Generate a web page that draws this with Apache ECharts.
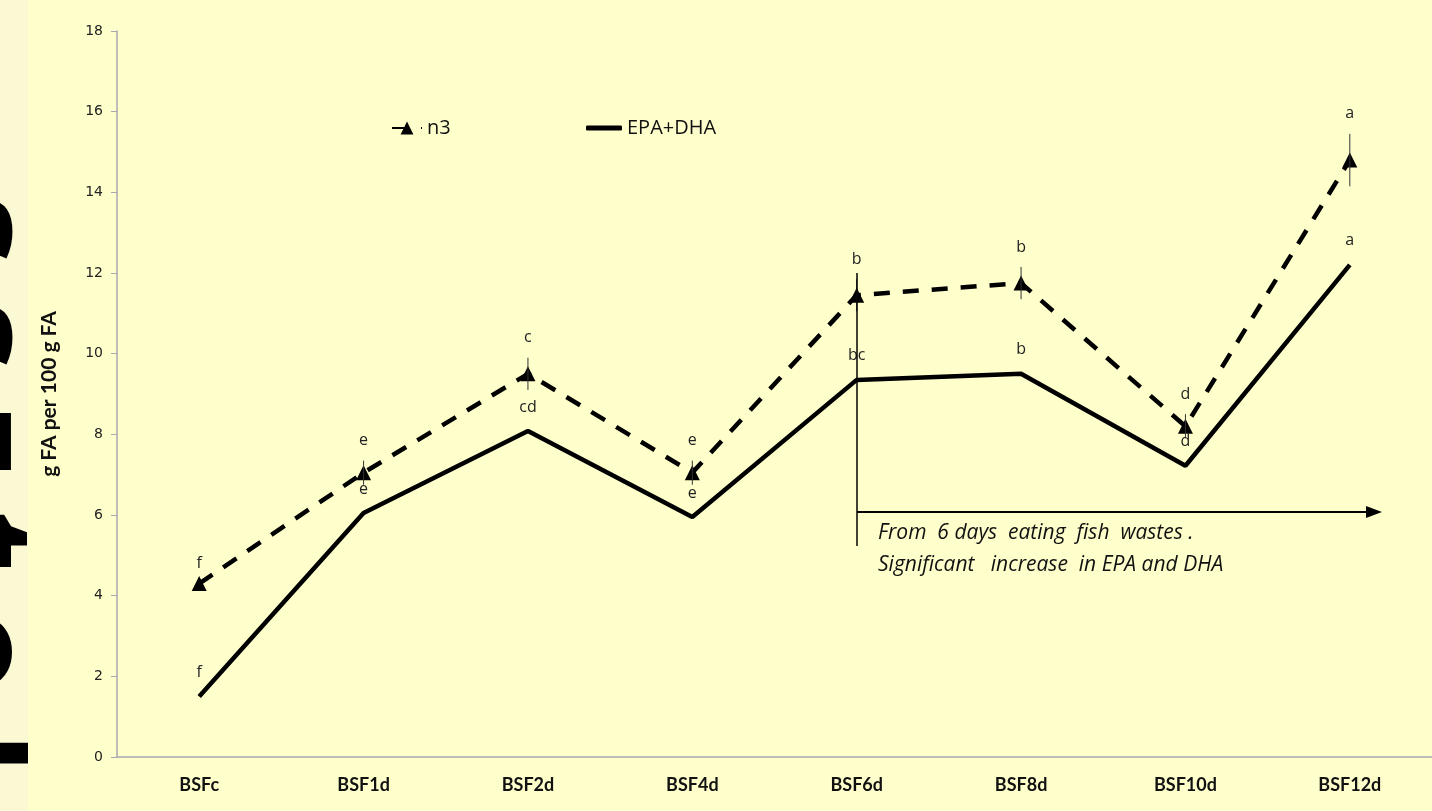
<!DOCTYPE html>
<html>
<head>
<meta charset="utf-8">
<script src="https://cdn.jsdelivr.net/npm/echarts@6/dist/echarts.min.js"></script>
<style>
  html, body { margin: 0; padding: 0; background: #FFFFCC; }
  #main { width: 1432px; height: 811px; }
</style>
</head>
<body>
<div id="main"></div>
<script>
// categories and values
var categories = ['BSFc', 'BSF1d', 'BSF2d', 'BSF4d', 'BSF6d', 'BSF8d', 'BSF10d', 'BSF12d']
var n3 = [4.3, 7.05, 9.5, 7.05, 11.45, 11.75, 8.2, 14.8]
var n3Err = [0, 0.3, 0.4, 0.3, 0.4, 0.4, 0.3, 0.65]
var n3Letters = ['f', 'e', 'c', 'e', 'b', 'b', 'd', 'a']
var epaDha = [1.5, 6.05, 8.08, 5.95, 9.35, 9.5, 7.22, 12.2]
var epaLetters = ['f', 'e', 'cd', 'e', 'bc', 'b', 'd', 'a']
var yTicks = [0, 2, 4, 6, 8, 10, 12, 14, 16, 18]

var myChart = echarts.init(document.getElementById('main'))

// letters (and error bars) drawn above a point
function letterItem(values, errs, letters, gap) {
  return function (params, api) {
    var i = api.value(0)
    var v = api.value(1)
    var e = errs ? errs[params.dataIndex] : 0
    var hi = api.coord([i, v + e])
    var lo = api.coord([i, v - e])
    var children = []
    if (e > 0) {
      children.push({
        type: 'line',
        shape: { x1: hi[0], y1: hi[1], x2: lo[0], y2: lo[1] },
        style: { stroke: '#333', lineWidth: 1 },
      })
    }
    children.push({
      type: 'text',
      style: {
        x: hi[0],
        y: hi[1] - gap,
        text: letters[params.dataIndex],
        fill: '#222',
        font: '16px "Open Sans"',
        align: 'center',
        verticalAlign: 'middle',
      },
    })
    return { type: 'group', children: children }
  }
}

var option = {
  backgroundColor: '#FFFFCC',
  animation: false,
  textStyle: { fontFamily: 'Open Sans' },
  grid: {
    left: 117,
    top: 31,
    width: 1319,
    height: 726,
  },
  legend: [
    {
      left: 386,
      top: 113,
      itemWidth: 30,
      itemHeight: 16,
      textStyle: { fontSize: 20, color: '#111', fontFamily: 'Open Sans' },
      data: ['n3'],
    },
    {
      left: 581,
      top: 113,
      itemWidth: 36,
      itemHeight: 5,
      itemGap: 4,
      textStyle: { fontSize: 20, color: '#111', fontFamily: 'Open Sans' },
      data: [{ name: 'EPA+DHA', icon: 'roundRect' }],
    },
  ],
  xAxis: {
    type: 'category',
    data: categories,
    axisLine: { lineStyle: { color: '#A8A8B0', width: 1.5 } },
    axisTick: { length: 6, lineStyle: { color: '#A8A8B0' } },
    axisLabel: {
      margin: 19,
      fontSize: 18,
      fontWeight: 'bold',
      color: '#111',
      fontFamily: 'Lato',
    },
  },
  yAxis: {
    type: 'value',
    min: yTicks[0],
    max: yTicks[yTicks.length - 1],
    interval: 2,
    name: 'g FA per 100 g FA',
    nameLocation: 'middle',
    nameGap: 57,
    nameTextStyle: { fontSize: 21, fontWeight: 'bold', color: '#111', fontFamily: 'Lato' },
    splitLine: { show: false },
    axisLine: { show: true, lineStyle: { color: '#A8A8B0', width: 1.5 } },
    axisTick: { show: true, length: 6, lineStyle: { color: '#A8A8B0' } },
    axisLabel: { margin: 14, fontSize: 14, color: '#222', fontFamily: 'DejaVu Sans' },
  },
  series: [
    {
      name: 'EPA+DHA',
      type: 'line',
      data: epaDha,
      symbol: 'none',
      lineStyle: { color: '#000', width: 4.5 },
      itemStyle: { color: '#000' },
      z: 3,
    },
    {
      name: 'n3',
      type: 'line',
      data: n3,
      symbol: 'triangle',
      symbolSize: 15,
      lineStyle: { color: '#000', width: 4.5, type: [16, 13] },
      itemStyle: { color: '#000' },
      z: 4,
    },
    {
      type: 'custom',
      silent: true,
      z: 5,
      data: n3.map(function (v, i) { return [i, v] }),
      renderItem: letterItem(n3, n3Err, n3Letters, 20),
    },
    {
      type: 'custom',
      silent: true,
      z: 5,
      data: epaDha.map(function (v, i) { return [i, v] }),
      renderItem: letterItem(epaDha, null, epaLetters, 24),
    },
  ],
  graphic: [
    {
      type: 'rect',
      left: 0,
      top: 0,
      shape: { width: 28, height: 811 },
      style: { fill: '#FBF8D4' },
      silent: true,
      z: -3,
    },
    {
      // cropped slide title on the left edge
      type: 'text',
      x: 44,
      y: 195,
      rotation: -Math.PI / 2,
      style: {
        text: 's s z t o l',
        font: 'bold 140px "Open Sans"',
        fill: '#000',
        textAlign: 'left',
        textVerticalAlign: 'top',
      },
      silent: true,
      z: -2,
    },
    {
      // hides the part of the title that runs past the strip
      type: 'rect',
      left: 28,
      top: 0,
      shape: { width: 60, height: 811 },
      style: { fill: '#FFFFCC' },
      silent: true,
      z: -1,
    },
    {
      type: 'line',
      shape: { x1: 857, y1: 273, x2: 857, y2: 546 },
      style: { stroke: '#000', lineWidth: 1.5 },
      z: 10,
    },
    {
      type: 'line',
      shape: { x1: 857, y1: 512, x2: 1368, y2: 512 },
      style: { stroke: '#000', lineWidth: 2 },
      z: 10,
    },
    {
      type: 'polygon',
      shape: { points: [[1366, 506], [1382, 512], [1366, 518]] },
      style: { fill: '#000' },
      z: 10,
    },
    {
      type: 'text',
      left: 878,
      top: 523,
      style: {
        text: 'From  6 days  eating  fish  wastes .',
        font: 'italic 21px "Open Sans"',
        fill: '#111',
      },
      z: 10,
    },
    {
      type: 'text',
      left: 878,
      top: 555,
      style: {
        text: 'Significant   increase  in EPA and DHA',
        font: 'italic 21px "Open Sans"',
        fill: '#111',
      },
      z: 10,
    },
  ],
}

myChart.setOption(option, true)
</script>
</body>
</html>
